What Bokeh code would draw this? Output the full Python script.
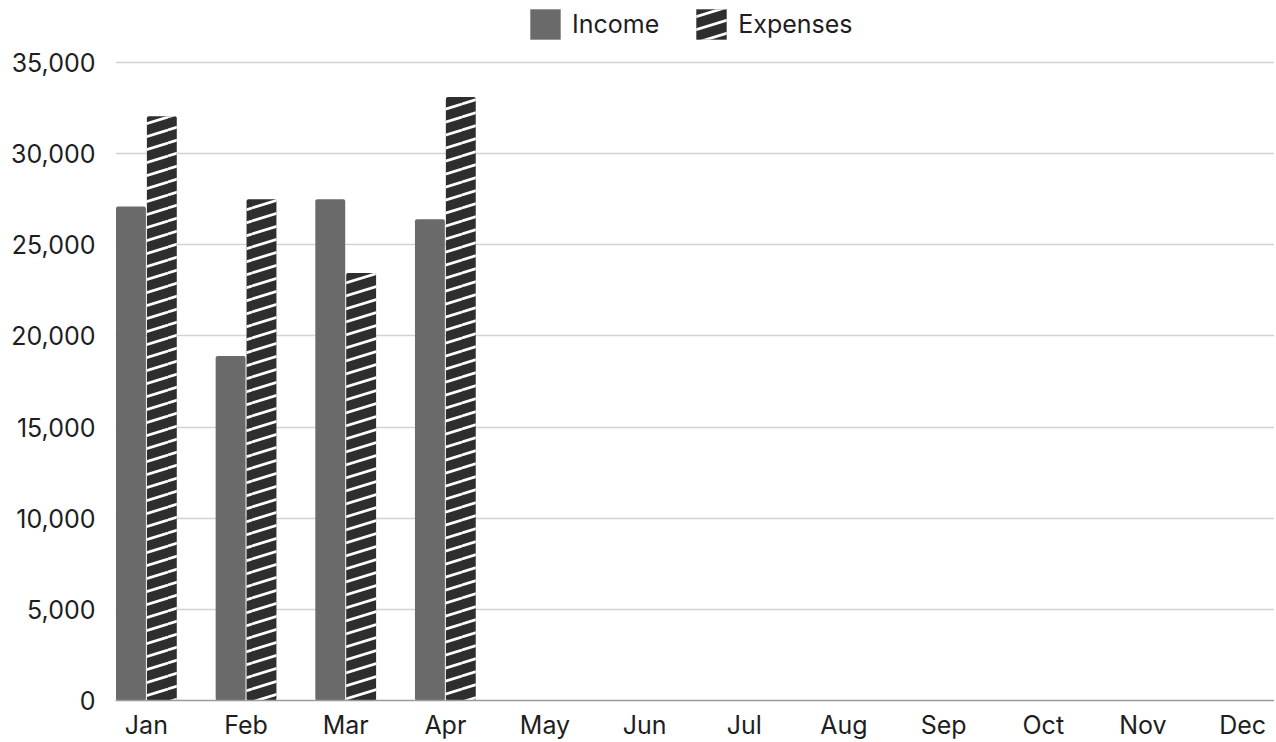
import base64
from bokeh.plotting import figure
from bokeh.models import (ColumnDataSource, Legend, LegendItem, NumeralTickFormatter,
                          FixedTicker, Range1d, ImageURLTexture)
from bokeh.embed import file_html
from bokeh.resources import INLINE

months = ["Jan", "Feb", "Mar", "Apr", "May", "Jun", "Jul", "Aug", "Sep", "Oct", "Nov", "Dec"]
income = [27100, 18900, 27500, 26400]
expenses = [32050, 27500, 23450, 33100]
y_ticks = [0, 5000, 10000, 15000, 20000, 25000, 30000, 35000]

FONT = "Inter"
INCOME_COLOR = "#6a6a6a"
EXPENSE_COLOR = "#2e2e2e"

# stripe texture (white shallow diagonal lines)
W, H = 42, 13
svg = (f'<svg xmlns="http://www.w3.org/2000/svg" width="{W}" height="{H}">'
       f'<g stroke="white" stroke-width="2.7" fill="none">'
       f'<line x1="0" y1="{H}" x2="{W}" y2="0"/>'
       f'<line x1="0" y1="0" x2="{W}" y2="{-H}"/>'
       f'<line x1="0" y1="{2*H}" x2="{W}" y2="{H}"/>'
       f'</g></svg>')
uri = "data:image/svg+xml;base64," + base64.b64encode(svg.encode()).decode()
stripes = ImageURLTexture(url=uri)

n = len(income)
inc_src = ColumnDataSource(dict(x=[i - 0.155 for i in range(n)], top=income))
exp_src = ColumnDataSource(dict(x=[i + 0.155 for i in range(n)], top=expenses,
                                pat=["stripes"] * n))

# frame extends upward to hold the legend; gridlines stop at 35,000
p = figure(width=1274, height=742, output_backend="svg", toolbar_location=None,
           x_range=Range1d(-0.31, 11.32), y_range=Range1d(0, 38180),
           min_border_left=115, min_border_right=0, min_border_top=4, min_border_bottom=20)
p.outline_line_color = None
p.background_fill_color = "white"
p.border_fill_color = "white"

r_inc = p.vbar(x="x", top="top", width=0.30, bottom=0, source=inc_src,
               fill_color=INCOME_COLOR, line_color=None, border_radius=2)
r_exp = p.vbar(x="x", top="top", width=0.30, bottom=0, source=exp_src,
               fill_color=EXPENSE_COLOR, line_color=None, border_radius=2,
               hatch_pattern="pat", hatch_extra={"stripes": stripes},
               hatch_color="white", hatch_alpha=1.0)

# axes
p.xaxis.ticker = FixedTicker(ticks=list(range(len(months))))
p.xaxis.major_label_overrides = {i: m for i, m in enumerate(months)}
p.xaxis.axis_line_color = "#9a9a9a"
p.xaxis.axis_line_width = 1.5
p.xaxis.major_tick_line_color = None
p.xaxis.minor_tick_line_color = None
p.xaxis.major_label_standoff = 3
p.xaxis.major_label_text_font = FONT
p.xaxis.major_label_text_font_size = "25px"
p.xaxis.major_label_text_color = "#1e1e1e"

p.yaxis.ticker = FixedTicker(ticks=y_ticks)
p.yaxis.formatter = NumeralTickFormatter(format="0,0")
p.yaxis.axis_line_color = None
p.yaxis.major_tick_line_color = None
p.yaxis.minor_tick_line_color = None
p.yaxis.major_label_standoff = 14
p.yaxis.major_label_text_font = FONT
p.yaxis.major_label_text_font_size = "25px"
p.yaxis.major_label_text_color = "#1e1e1e"

p.xgrid.grid_line_color = None
p.ygrid.grid_line_color = "#d2d2d2"
p.ygrid.grid_line_width = 1.5

legend = Legend(items=[LegendItem(label="Income", renderers=[r_inc]),
                       LegendItem(label="Expenses", renderers=[r_exp])],
                orientation="horizontal", location=(411, 657),
                glyph_width=38, glyph_height=38, label_standoff=8, spacing=33,
                padding=0, margin=0, border_line_color=None, background_fill_alpha=0,
                label_text_font=FONT, label_text_font_size="25px",
                label_text_color="#1e1e1e")
p.add_layout(legend, "center")

open("out.html", "w").write(file_html(p, INLINE))
